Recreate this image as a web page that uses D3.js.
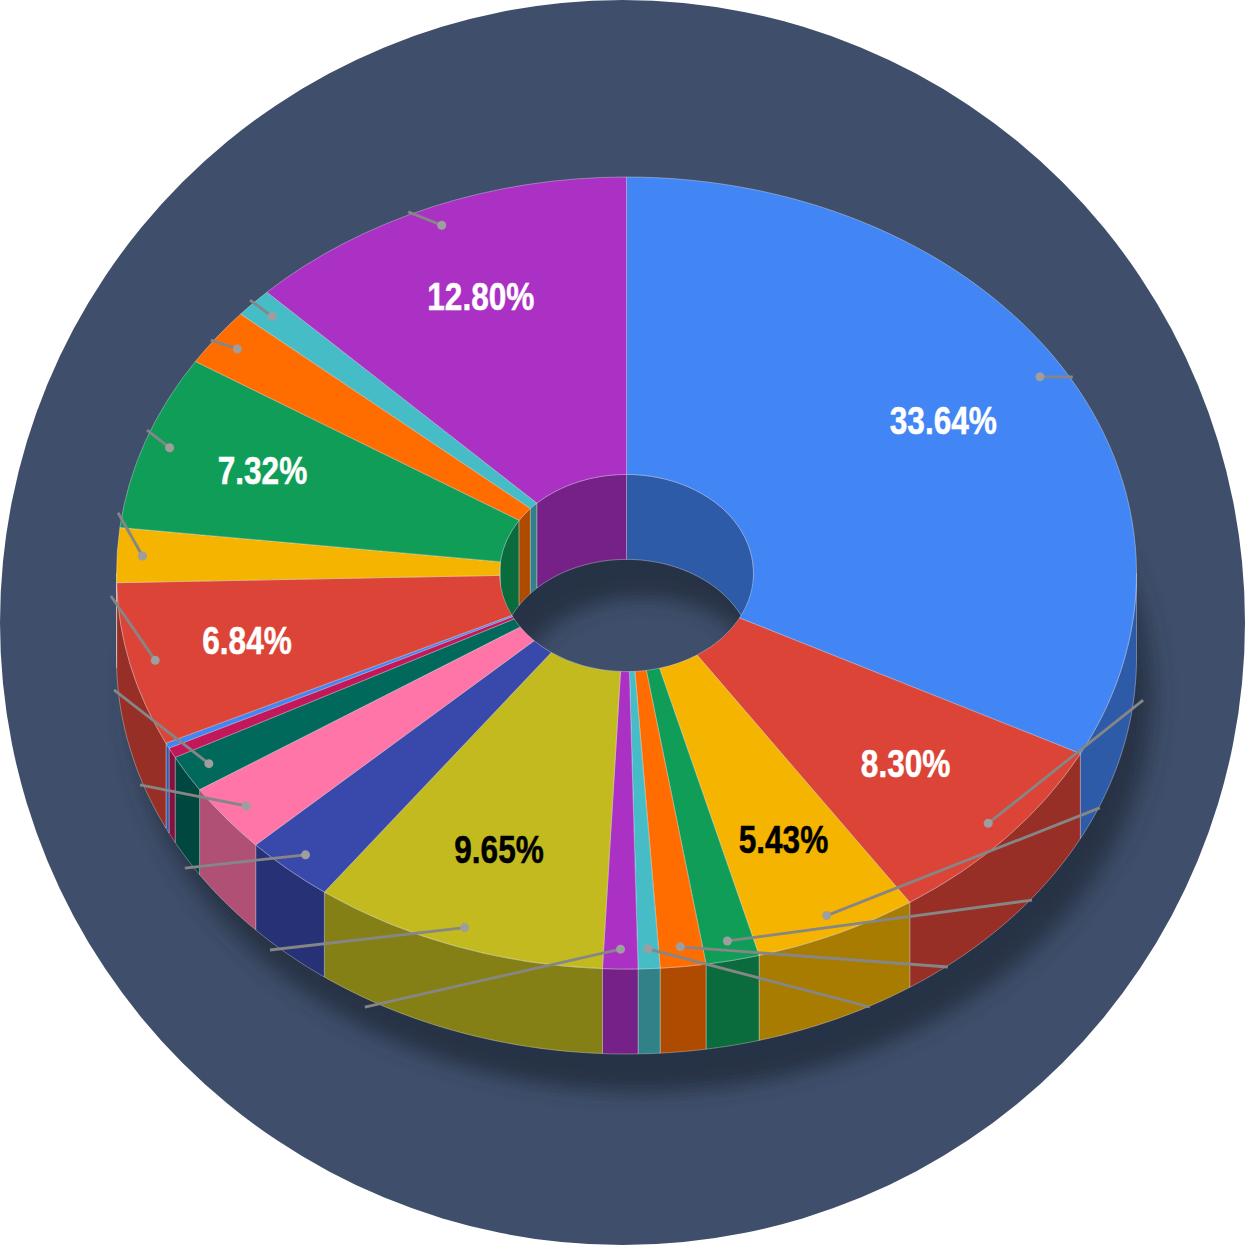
<!DOCTYPE html>
<html>
<head>
<meta charset="utf-8">
<script src="https://cdn.jsdelivr.net/npm/d3@7"></script>
<style>
    html, body { margin: 0; padding: 0; background: #fff; }
    svg { display: block; }
</style>
</head>
<body>
<div id="chart"></div>
<script>
// Shares. The picture's angles run
// slightly away from its printed percentages, so those are kept apart below.
const sliceShares = [32.5, 8.08, 5.18, 1.69, 1.44, 0.69, 1.11, 9.33, 2.86, 2.83, 1.5, 0.42, 0.22, 6.67, 2.22, 7.13, 2.37, 1.2, 12.44];
const sliceLabels = ["33.64%", "8.30%", "5.43%", null, null, null, null, "9.65%", null, null, null, null, null, "6.84%", null, "7.32%", null, null, "12.80%"];
const sliceColors = ["#4285F4", "#DB4437", "#F4B400", "#0F9D58", "#FF6D00", "#46BDC6", "#AB30C4", "#C2BA1F", "#3949AB", "#FF75A8", "#00695C", "#C2185B", "#4285F4", "#DB4437", "#F4B400", "#0F9D58", "#FF6D00", "#46BDC6", "#AB30C4"];

// How far out each label sits, in pie units.
const labelReach = [0.728, 0.733, 0.745, 0, 0, 0, 0, 0.748, 0, 0, 0, 0, 0, 0.765, 0, 0.757, 0, 0, 0.749];

// Where each leader line ends, in pie units (1 = outer rim).
const leaderEndX = [0.875, 1.013, 0.928, 0.795, 0.63, 0.477, -0.513, -0.699, -0.866, -0.954, -1.005, null, null, -1.011, -0.997, -0.94, -0.815, -0.738, -0.428];
const leaderEndY = [-0.495, 0.321, 0.593, 0.826, 0.995, 1.096, 1.096, 0.952, 0.745, 0.535, 0.295, null, null, 0.058, -0.152, -0.361, -0.588, -0.689, -0.912];

const size = 1245;
const cx = 626.5, cy = 573;
const rx = 510, ry = 396;
const innerRatio = 127 / 510;
const depth = 85;

const x = d3.scaleLinear().domain([-1, 1]).range([cx - rx, cx + rx]);
const y = d3.scaleLinear().domain([-1, 1]).range([cy - ry, cy + ry]);

// Point on the tilted pie, angle clockwise from 12 o'clock.
const project = (a, r, drop = 0) => [x(r * Math.sin(a)), y(-r * Math.cos(a)) + drop];

const pie = d3.pie().sort(null).value(d => d);
const slices = pie(sliceShares);

const svg = d3.select("#chart").append("svg")
    .attr("width", size)
    .attr("height", size);

const defs = svg.append("defs");
defs.append("filter")
    .attr("id", "blur")
    .attr("x", "-20%").attr("y", "-20%")
    .attr("width", "140%").attr("height", "140%")
    .append("feGaussianBlur")
    .attr("stdDeviation", 13);

// Background disc.
svg.append("circle")
    .attr("cx", size / 2)
    .attr("cy", size / 2)
    .attr("r", size / 2)
    .attr("fill", "#3F4F6B");

// Drop shadow: a ring, so the hole stays light at its lower edge.
const ring = d3.arc()
    .innerRadius(rx * innerRatio)
    .outerRadius(rx)
    .startAngle(0)
    .endAngle(2 * Math.PI);

svg.append("path")
    .attr("d", ring())
    .attr("transform", `translate(${cx + 16},${cy + depth + 38}) scale(1,${ry / rx})`)
    .attr("fill", "#283145")
    .attr("filter", "url(#blur)");

const line = d3.line();
const edge = "rgba(255,255,255,0.32)";

// One wall segment between two angles, dropped by the depth of the pie.
function wall(a0, a1, r) {
    const steps = d3.range(0, 41).map(i => a0 + (a1 - a0) * i / 40);
    const upper = steps.map(a => project(a, r));
    const lower = steps.slice().reverse().map(a => project(a, r, depth));
    return line(upper.concat(lower)) + "Z";
}

const side = d => d3.rgb(sliceColors[d.index]).darker(1.05);
const quarter = Math.PI / 2;

// Outer wall shows on the front half, 90 to 270 degrees.
const outerWalls = slices.filter(d => d.endAngle > quarter && d.startAngle < 3 * quarter);
svg.append("g").selectAll("path")
    .data(outerWalls)
    .join("path")
    .attr("d", d => wall(Math.max(d.startAngle, quarter), Math.min(d.endAngle, 3 * quarter), 1))
    .attr("fill", side)
    .attr("stroke", edge);

// Inner wall shows on the back half of the hole.
const backPieces = [];
slices.forEach(d => {
    if (d.startAngle < quarter) backPieces.push({ d, a0: d.startAngle, a1: Math.min(d.endAngle, quarter) });
    if (d.endAngle > 3 * quarter) backPieces.push({ d, a0: Math.max(d.startAngle, 3 * quarter), a1: d.endAngle });
});
svg.append("g").selectAll("path")
    .data(backPieces)
    .join("path")
    .attr("d", p => wall(p.a0, p.a1, innerRatio))
    .attr("fill", p => side(p.d))
    .attr("stroke", edge);

// Top face.
const arc = d3.arc()
    .innerRadius(rx * innerRatio)
    .outerRadius(rx);

svg.append("g")
    .attr("transform", `translate(${cx},${cy}) scale(1,${ry / rx})`)
    .selectAll("path")
    .data(slices)
    .join("path")
    .attr("d", arc)
    .attr("fill", d => sliceColors[d.index])
    .attr("stroke", edge)
    .attr("vector-effect", "non-scaling-stroke");

// Leader lines with their dots.
const leaders = slices.filter(d => leaderEndX[d.index] !== null);
const mid = d => (d.startAngle + d.endAngle) / 2;

const leaderGroup = svg.append("g");
leaderGroup.selectAll("line")
    .data(leaders)
    .join("line")
    .attr("x1", d => project(mid(d), 0.95)[0])
    .attr("y1", d => project(mid(d), 0.95)[1])
    .attr("x2", d => x(leaderEndX[d.index]))
    .attr("y2", d => y(leaderEndY[d.index]))
    .attr("stroke", "#868686")
    .attr("stroke-width", 2.8);
leaderGroup.selectAll("circle")
    .data(leaders)
    .join("circle")
    .attr("cx", d => project(mid(d), 0.95)[0])
    .attr("cy", d => project(mid(d), 0.95)[1])
    .attr("r", 4.5)
    .attr("fill", "#9E9E9E");

// Percent labels, dark on the two light slices. The original face is a narrow one.
svg.append("g").selectAll("text")
    .data(slices.filter(d => sliceLabels[d.index]))
    .join("text")
    .attr("transform", d => {
        const [lx, ly] = project(mid(d), labelReach[d.index]);
        return `translate(${lx},${ly}) scale(0.81,1)`;
    })
    .attr("dy", "0.28em")
    .attr("text-anchor", "middle")
    .attr("font-family", "'Liberation Sans', Arial, sans-serif")
    .attr("font-weight", "bold")
    .attr("font-size", 39)
    .attr("fill", d => d3.lab(sliceColors[d.index]).l > 70 ? "#000" : "#fff")
    .attr("stroke", d => d3.lab(sliceColors[d.index]).l > 70 ? "#000" : "#fff")
    .attr("stroke-width", 0.5)
    .text(d => sliceLabels[d.index]);
</script>
</body>
</html>
